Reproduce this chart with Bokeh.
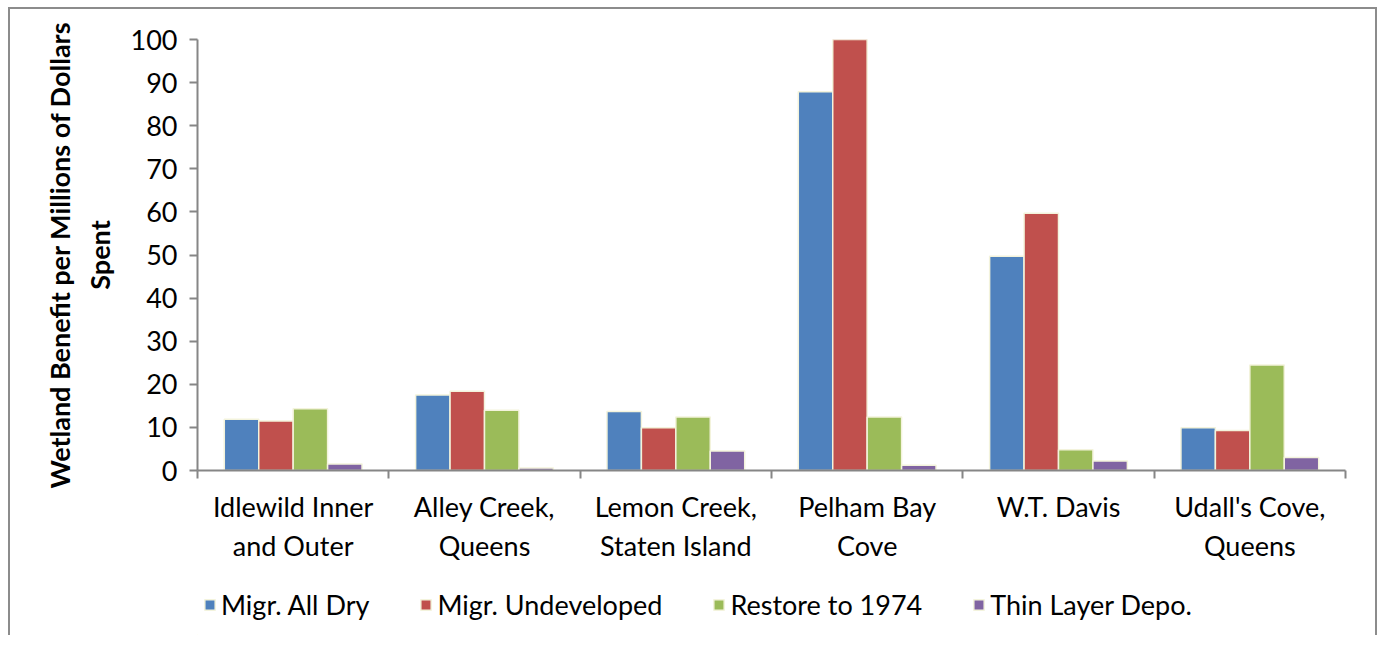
from bokeh.plotting import figure
from bokeh.layouts import column
from bokeh.models import Range1d, FixedTicker, Legend, LegendItem, ColumnDataSource
from bokeh.embed import file_html
from bokeh.resources import INLINE

sites = ["Idlewild Inner\nand Outer", "Alley Creek,\nQueens", "Lemon Creek,\nStaten Island",
         "Pelham Bay\nCove", "W.T. Davis", "Udall's Cove,\nQueens"]
series = ["Migr. All Dry", "Migr. Undeveloped", "Restore to 1974", "Thin Layer Depo."]
migr_all_dry = [11.9, 17.5, 13.7, 87.9, 49.7, 9.9]
migr_undeveloped = [11.5, 18.4, 9.9, 100.0, 59.7, 9.3]
restore_1974 = [14.3, 14.0, 12.4, 12.4, 4.8, 24.5]
thin_layer = [1.5, 0.6, 4.5, 1.2, 2.2, 3.0]
y_ticks = list(range(0, 101, 10))
y_title = "Wetland Benefit per Millions of Dollars\nSpent"

colors = ["#4F81BD", "#C0504D", "#9BBB59", "#8064A2"]
values = [migr_all_dry, migr_undeveloped, restore_1974, thin_layer]
EDGE = "#f3f3dc"
AXC = "#868686"

FONT = "Lato"
FS = "27px"
W, H = 1365, 556
p = figure(width=W, height=H, output_backend="svg", toolbar_location=None,
           x_range=Range1d(0, len(sites)), y_range=Range1d(0, 100))
p.min_border_left = 187
p.min_border_right = 30
p.min_border_top = 30
p.min_border_bottom = 90
p.outline_line_color = None
p.xgrid.grid_line_color = None
p.ygrid.grid_line_color = None

bw = 0.18
for k, (name, vals, c) in enumerate(zip(series, values, colors)):
    xs = [i + 0.5 + (k - 1.5) * bw for i in range(len(sites))]
    src = ColumnDataSource(dict(x=xs, top=vals))
    p.vbar(x="x", top="top", bottom=0, width=bw, source=src, fill_color=c,
           line_color=EDGE, line_width=1.5)

# x axis
xa = p.xaxis[0]
xa.ticker = FixedTicker(ticks=[i + 0.5 for i in range(len(sites))],
                        minor_ticks=list(range(len(sites) + 1)))
xa.major_label_overrides = {i + 0.5: s for i, s in enumerate(sites)}
xa.major_tick_line_color = None
xa.minor_tick_line_color = AXC
xa.minor_tick_line_width = 2
xa.minor_tick_out = 8
xa.minor_tick_in = 0
xa.axis_line_color = AXC
xa.axis_line_width = 2
xa.major_label_text_font = FONT
xa.major_label_text_font_size = FS
xa.major_label_text_color = "black"
xa.major_label_standoff = 11

ya = p.yaxis[0]
ya.ticker = FixedTicker(ticks=y_ticks, minor_ticks=[])
ya.major_tick_line_color = AXC
ya.major_tick_line_width = 2
ya.major_tick_out = 8
ya.major_tick_in = 0
ya.axis_line_color = AXC
ya.axis_line_width = 2
ya.major_label_text_font = FONT
ya.major_label_text_font_size = FS
ya.major_label_text_color = "black"
ya.major_label_standoff = 12
ya.axis_label = y_title
ya.axis_label_text_font = FONT
ya.axis_label_text_font_style = "bold"
ya.axis_label_text_font_size = FS
ya.axis_label_text_color = "black"
ya.axis_label_standoff = 12

# legend strip
lg = figure(width=W, height=70, output_backend="svg", toolbar_location=None,
            x_range=Range1d(0, 1), y_range=Range1d(0, 1), min_border=0)
lg.axis.visible = False
lg.grid.visible = False
lg.outline_line_color = None
items = []
for name, c in zip(series, colors):
    r = lg.vbar(x=[-1], top=[0], bottom=0, width=0.1, fill_color=c,
                line_color=EDGE, line_width=1.5)
    items.append(LegendItem(label=name, renderers=[r]))

legend = Legend(items=items, orientation="horizontal", location=(6, 14))
legend.border_line_color = None
legend.background_fill_alpha = 0
legend.label_text_font = FONT
legend.label_text_font_size = FS
legend.label_text_color = "black"
legend.glyph_width = 13
legend.glyph_height = 13
legend.label_standoff = 5
legend.spacing = 50
legend.padding = 0
legend.margin = 0
lg.add_layout(legend, "center")

bd = "2px solid #8c8c8c"
layout = column(p, lg, spacing=0,
                styles={"border-left": bd, "border-top": bd, "border-right": bd,
                        "margin-left": "8px", "margin-top": "7px"})

open("out.html", "w").write(file_html(layout, INLINE))
